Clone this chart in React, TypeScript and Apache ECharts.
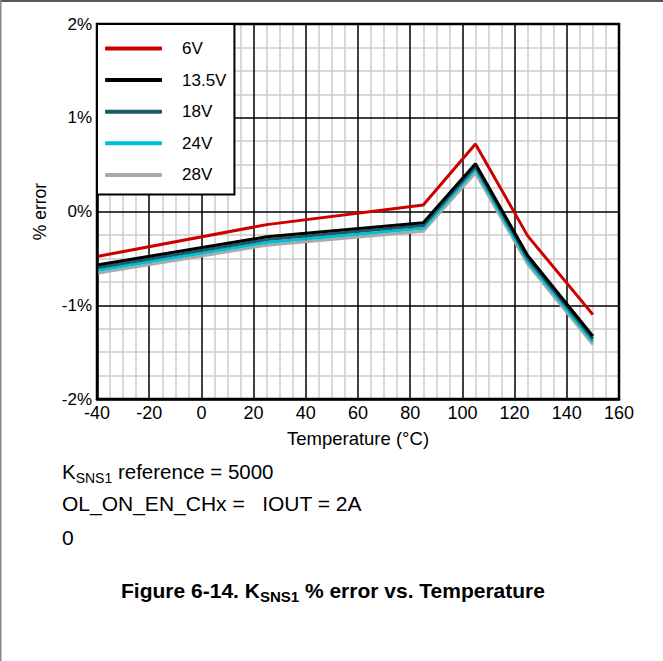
import React, { useEffect, useRef } from "react";
import * as echarts from "echarts";

const temps = [-40, 25, 85, 105, 125, 150];
const v6 = [-0.48, -0.14, 0.07, 0.72, -0.26, -1.1];
const v13 = [-0.57, -0.27, -0.12, 0.51, -0.47, -1.33];
const v18 = [-0.6, -0.3, -0.15, 0.48, -0.5, -1.36];
const v24 = [-0.63, -0.33, -0.18, 0.45, -0.53, -1.39];
const v28 = [-0.66, -0.36, -0.21, 0.41, -0.56, -1.42];
const seriesNames = ["6V", "13.5V", "18V", "24V", "28V"];
const seriesColors = ["#cc0000", "#000000", "#1b5a68", "#00c0d4", "#aaaaaa"];
const seriesValues = [v6, v13, v18, v24, v28];

const FONT = "Liberation Sans, Arial, sans-serif";

export default function App() {
  const ref = useRef<HTMLDivElement>(null);
  useEffect(() => {
    document.body.style.margin = "0";
    const chart = echarts.init(ref.current!, null, { renderer: "svg" });
    const series = seriesNames
      .map((name, i) => ({
        name,
        type: "line",
        symbol: "none",
        xAxisIndex: 0,
        yAxisIndex: 0,
        z: 5,
        data: temps.map((t, j) => [t, seriesValues[i][j]]),
        lineStyle: { color: seriesColors[i], width: 3 },
        itemStyle: { color: seriesColors[i] },
      }))
      .reverse();
    const minorX = {
      type: "value",
      min: -40,
      max: 160,
      interval: 20,
      z: 0,
      axisLine: { show: false },
      axisTick: { show: false },
      axisLabel: { show: false },
      splitLine: { show: false },
      minorTick: { show: false, splitNumber: 4 },
      minorSplitLine: { show: true, lineStyle: { color: "#cccccc", width: 1.5 } },
    };
    const minorY = {
      type: "value",
      min: -2,
      max: 2,
      interval: 1,
      z: 0,
      axisLine: { show: false },
      axisTick: { show: false },
      axisLabel: { show: false },
      splitLine: { show: false },
      minorTick: { show: false, splitNumber: 4 },
      minorSplitLine: { show: true, lineStyle: { color: "#cccccc", width: 1.5 } },
    };
    chart.setOption({
      animation: false,
      textStyle: { fontFamily: FONT },
      grid: { left: 97, top: 24, right: 44, bottom: 262, show: false },
      legend: {
        data: seriesNames,
        orient: "vertical",
        left: 97,
        top: 24,
        z: 20,
        icon: "roundRect",
        itemWidth: 57,
        itemHeight: 4,
        itemGap: 14.6,
        padding: [16, 8, 11, 8],
        backgroundColor: "#ffffff",
        borderColor: "#000000",
        borderWidth: 2,
        textStyle: {
          fontSize: 17,
          color: "#000",
          lineHeight: 16,
          fontFamily: FONT,
          padding: [0, 0, 0, 15],
        },
      },
      xAxis: [
        minorX,
        {
          type: "value",
          min: -40,
          max: 160,
          interval: 20,
          position: "bottom",
          z: 2,
          name: "Temperature (°C)",
          nameLocation: "middle",
          nameGap: 30,
          nameTextStyle: { fontSize: 18.5, color: "#000", fontFamily: FONT },
          axisLine: { show: true, onZero: false, lineStyle: { color: "#000", width: 2.5 } },
          axisTick: { show: false },
          axisLabel: { fontSize: 18, color: "#000", margin: 5, fontFamily: FONT },
          splitLine: { show: true, lineStyle: { color: "#000", width: 1.5 } },
        },
      ],
      yAxis: [
        minorY,
        {
          type: "value",
          min: -2,
          max: 2,
          interval: 1,
          position: "left",
          z: 2,
          name: "% error",
          nameLocation: "middle",
          nameRotate: 90,
          nameGap: 48,
          nameTextStyle: { fontSize: 17.5, color: "#000", fontFamily: FONT },
          axisLine: { show: true, onZero: false, lineStyle: { color: "#000", width: 2.5 } },
          axisTick: { show: false },
          axisLabel: {
            fontSize: 17,
            color: "#000",
            margin: 5,
            fontFamily: FONT,
            formatter: (v: number) => v + "%",
          },
          splitLine: { show: true, lineStyle: { color: "#000", width: 1.5 } },
        },
      ],
      series,
      graphic: [
        {
          type: "line",
          shape: { x1: 0, y1: 1, x2: 663, y2: 1 },
          style: { stroke: "#222", lineWidth: 1.5 },
          silent: true,
        },
        {
          type: "line",
          shape: { x1: 0.75, y1: 0, x2: 0.75, y2: 661 },
          style: { stroke: "#888", lineWidth: 1.5 },
          silent: true,
        },
        {
          type: "rect",
          shape: { x: 97, y: 24, width: 522, height: 375 },
          style: { fill: "none", stroke: "#000", lineWidth: 2.5 },
          silent: true,
          z: 10,
        },
        {
          type: "text",
          x: 62,
          y: 471,
          style: {
            text: "{m|K}{s|SNS1}{m| reference = 5000}",
            fill: "#000",
            verticalAlign: "middle",
            font: "21px " + FONT,
            rich: {
              m: { fontSize: 20.5, lineHeight: 28, fontFamily: FONT, fill: "#000", verticalAlign: "middle" },
              s: { fontSize: 14, lineHeight: 14, fontFamily: FONT, fill: "#000", verticalAlign: "bottom" },
            },
          },
        },
        {
          type: "text",
          x: 62,
          y: 503,
          style: {
            text: "OL_ON_EN_CHx =   IOUT = 2A",
            fill: "#000",
            verticalAlign: "middle",
            font: "21px " + FONT,
          },
        },
        {
          type: "text",
          x: 62,
          y: 537,
          style: { text: "0", fill: "#000", verticalAlign: "middle", font: "21px " + FONT },
        },
        {
          type: "text",
          x: 333,
          y: 590,
          style: {
            text: "{m|Figure 6-14. K}{s|SNS1}{m| % error vs. Temperature}",
            align: "center",
            verticalAlign: "middle",
            fill: "#000",
            font: "bold 21px " + FONT,
            rich: {
              m: { fontSize: 21, fontWeight: "bold", lineHeight: 28, fontFamily: FONT, fill: "#000", verticalAlign: "middle" },
              s: { fontSize: 15, fontWeight: "bold", lineHeight: 15, fontFamily: FONT, fill: "#000", verticalAlign: "bottom" },
            },
          },
        },
      ],
    });
    return () => chart.dispose();
  }, []);
  return <div ref={ref} style={{ width: 663, height: 661 }} />;
}
